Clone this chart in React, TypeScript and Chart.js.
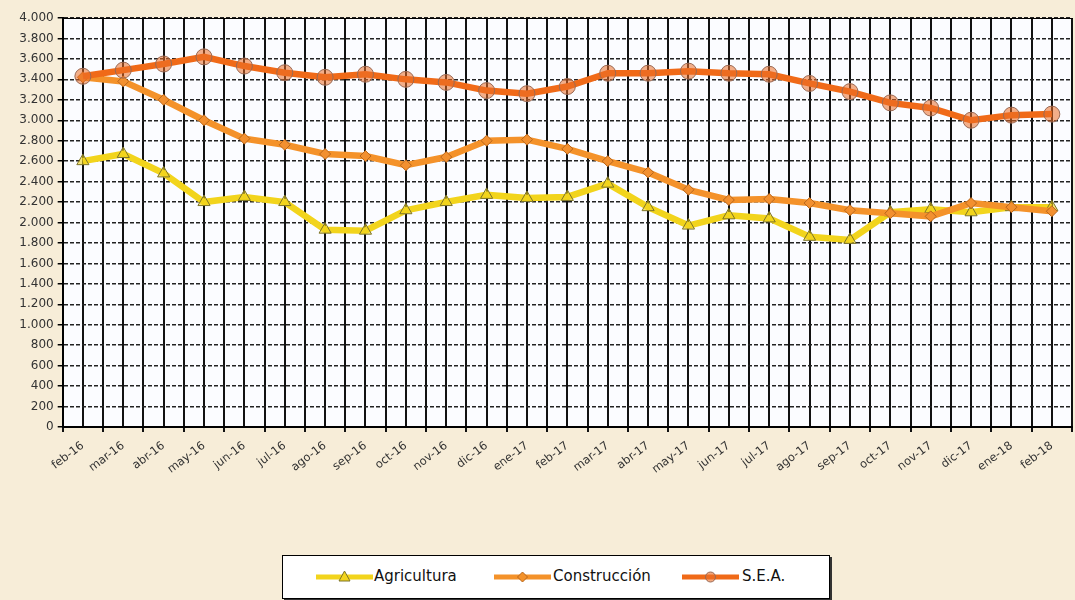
import React, { useEffect, useRef } from 'react';
import { Chart, registerables } from 'chart.js';

Chart.register(...registerables);

const months = [
  'feb-16', 'mar-16', 'abr-16', 'may-16', 'jun-16', 'jul-16', 'ago-16', 'sep-16',
  'oct-16', 'nov-16', 'dic-16', 'ene-17', 'feb-17', 'mar-17', 'abr-17', 'may-17',
  'jun-17', 'jul-17', 'ago-17', 'sep-17', 'oct-17', 'nov-17', 'dic-17', 'ene-18', 'feb-18',
];

const agricultura = [
  2600, 2670, 2480, 2200, 2250, 2200, 1930, 1920, 2120, 2200, 2270, 2240, 2250,
  2380, 2150, 1970, 2070, 2040, 1860, 1830, 2100, 2130, 2100, 2150, 2150,
];

const construccion = [
  3420, 3380, 3200, 3000, 2820, 2760, 2670, 2650, 2560, 2640, 2800, 2810, 2720,
  2600, 2490, 2320, 2220, 2230, 2190, 2120, 2090, 2060, 2190, 2150, 2110,
];

const sea = [
  3430, 3490, 3550, 3620, 3530, 3465, 3420, 3450, 3400, 3370, 3290, 3260, 3330,
  3460, 3460, 3480, 3460, 3450, 3360, 3280, 3170, 3120, 3000, 3050, 3060,
];

const seriesNames = ['Agricultura', 'Construcción', 'S.E.A.'];

const yMin = 0;
const yMax = 4000;
const yStep = 200;

const COL_AGR = '#f2d41c';
const COL_CON = '#f4922a';
const COL_SEA = '#f06a18';

const fmt = (v: number) => {
  if (v >= 1000) {
    return `${Math.floor(v / 1000)}.${String(v % 1000).padStart(3, '0')}`;
  }
  return String(v);
};

const FONT = 'DejaVu Sans';

function LegendSample({ color, marker }: { color: string; marker: string }) {
  return (
    <svg width={57} height={16} style={{ display: 'block' }}>
      <line x1={0} y1={8} x2={57} y2={8} stroke={color} strokeWidth={5} />
      {marker === 'triangle' && (
        <polygon points="28.5,2 34,12 23,12" fill={color} stroke="#7d7428" strokeWidth={1} />
      )}
      {marker === 'diamond' && (
        <polygon points="28.5,3 33.5,8 28.5,13 23.5,8" fill={color} stroke="#b8661c" strokeWidth={1} />
      )}
      {marker === 'circle' && (
        <circle cx={28.5} cy={8} r={5} fill="rgba(235,110,40,0.6)" stroke="#9a6a55" strokeWidth={1} />
      )}
    </svg>
  );
}

export default function App() {
  const ref = useRef<HTMLCanvasElement>(null);

  useEffect(() => {
    document.body.style.margin = '0';
    document.body.style.overflow = 'hidden';

    const plotBg = {
      id: 'plotBg',
      beforeDraw(c: any) {
        const { ctx, chartArea: a } = c;
        ctx.save();
        ctx.fillStyle = '#fbfcff';
        ctx.fillRect(a.left, a.top, a.right - a.left, a.bottom - a.top);
        ctx.restore();
      },
    };

    const chart = new Chart(ref.current as HTMLCanvasElement, {
      type: 'line',
      data: {
        labels: months,
        datasets: [
          {
            label: seriesNames[0],
            data: agricultura,
            borderColor: COL_AGR,
            borderWidth: 6.5,
            pointStyle: 'triangle',
            pointRadius: 7,
            pointBorderWidth: 1,
            pointBorderColor: '#7d7428',
            pointBackgroundColor: 'rgba(242,212,28,0.6)',
            tension: 0,
            order: 3,
          },
          {
            label: seriesNames[1],
            data: construccion,
            borderColor: COL_CON,
            borderWidth: 6.5,
            pointStyle: 'rectRot',
            pointRadius: 5.5,
            pointBorderWidth: 1,
            pointBorderColor: '#b8661c',
            pointBackgroundColor: '#f29030',
            tension: 0,
            order: 2,
          },
          {
            label: seriesNames[2],
            data: sea,
            borderColor: COL_SEA,
            borderWidth: 6.5,
            pointStyle: 'circle',
            pointRadius: 8,
            pointBorderWidth: 1,
            pointBorderColor: '#9a6a55',
            pointBackgroundColor: 'rgba(235,110,40,0.55)',
            tension: 0,
            order: 1,
          },
        ],
      },
      options: {
        animation: false,
        responsive: true,
        maintainAspectRatio: false,
        layout: { padding: { top: 18, left: 0, right: 0, bottom: 0 } },
        plugins: {
          legend: { display: false },
          tooltip: { enabled: false },
          title: { display: false },
        },
        scales: {
          x: {
            type: 'category',
            position: 'bottom',
            offset: true,
            grid: {
              offset: true,
              color: '#111',
              lineWidth: 2,
              drawTicks: true,
              tickLength: 5,
              tickColor: '#111',
              tickWidth: 2,
            },
            border: { display: true, color: '#000', width: 2 },
            ticks: {
              autoSkip: false,
              minRotation: 37,
              maxRotation: 37,
              padding: 7,
              color: '#333',
              font: { family: FONT, size: 11.5 },
            },
            afterFit: (s: any) => {
              s.height = 70;
            },
          },
          x2: {
            type: 'category',
            position: 'top',
            offset: true,
            grid: {
              offset: false,
              color: '#111',
              lineWidth: 2,
              drawTicks: false,
            },
            border: { display: true, color: '#000', width: 1 },
            ticks: { display: false },
          },
          y: {
            min: yMin,
            max: yMax,
            ticks: {
              stepSize: yStep,
              callback: (v: any) => fmt(Number(v)),
              color: '#333',
              padding: 4,
              font: { family: FONT, size: 12 },
            },
            grid: {
              color: '#222',
              lineWidth: 1.5,
              drawTicks: true,
              tickLength: 5,
              tickColor: '#000',
              tickWidth: 1.5,
            },
            border: { display: true, color: '#000', width: 2, dash: [4, 2] },
            afterFit: (s: any) => {
              s.width = 62.7;
            },
          },
        },
      } as any,
      plugins: [plotBg],
    });

    return () => chart.destroy();
  }, []);

  const legendItems = [
    { name: seriesNames[0], color: COL_AGR, marker: 'triangle', lineX: 316, textX: 374 },
    { name: seriesNames[1], color: COL_CON, marker: 'diamond', lineX: 494, textX: 553 },
    { name: seriesNames[2], color: COL_SEA, marker: 'circle', lineX: 682, textX: 742 },
  ];

  return (
    <div
      style={{
        position: 'fixed',
        left: 0,
        top: 0,
        width: 1075,
        height: 600,
        overflow: 'hidden',
        background: '#f7edd8',
      }}
    >
      <div style={{ position: 'absolute', left: 0, top: 0, width: 1081, height: 497 }}>
        <canvas ref={ref} />
      </div>
      <div
        style={{
          position: 'absolute',
          left: 282,
          top: 555,
          width: 546,
          height: 42,
          border: '1px solid #000',
          boxShadow: '2px 2px 0 #333',
          background: '#ffffff',
        }}
      />
      {legendItems.map((it) => (
        <React.Fragment key={it.name}>
          <div style={{ position: 'absolute', left: it.lineX, top: 569 }}>
            <LegendSample color={it.color} marker={it.marker} />
          </div>
          <div
            style={{
              position: 'absolute',
              left: it.textX,
              top: 567,
              fontFamily: FONT,
              fontSize: 15,
              color: '#111',
              whiteSpace: 'nowrap',
              lineHeight: '18px',
            }}
          >
            {it.name}
          </div>
        </React.Fragment>
      ))}
    </div>
  );
}
